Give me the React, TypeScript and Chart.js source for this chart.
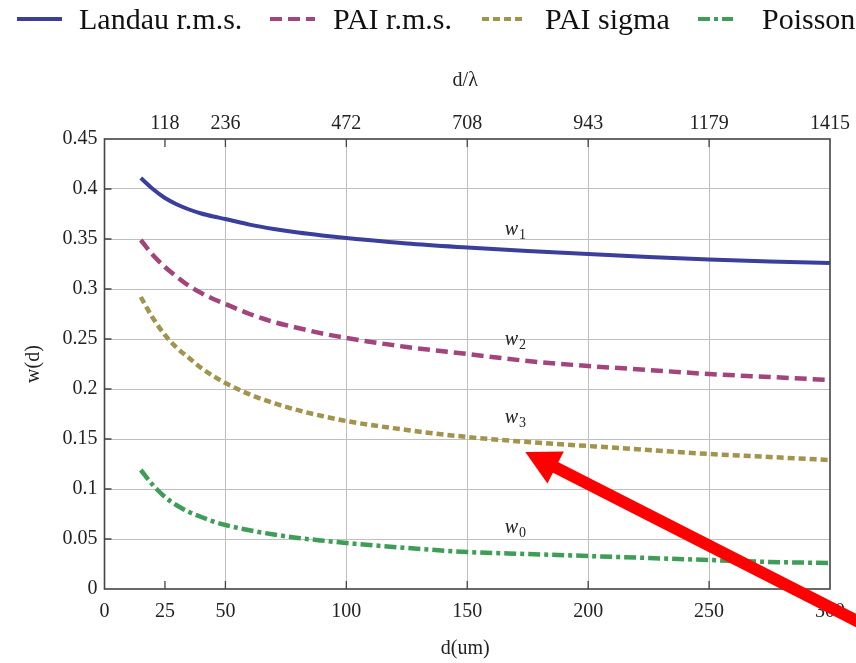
import React, { useEffect, useRef } from "react";
import { Chart, registerables } from "chart.js";

Chart.register(...registerables);

// ---------- data ----------
const dValues = [15, 20, 25, 30, 35, 40, 45, 50, 60, 70, 80, 90, 100, 125, 150, 175, 200, 225, 250, 275, 300];
const landauRms = [0.411, 0.4, 0.391, 0.3845, 0.3795, 0.3755, 0.3725, 0.37, 0.3644, 0.36, 0.3564, 0.3535, 0.351, 0.3455, 0.3415, 0.338, 0.335, 0.332, 0.3295, 0.3275, 0.326];
const paiRms = [0.349, 0.334, 0.322, 0.312, 0.303, 0.296, 0.29, 0.285, 0.275, 0.267, 0.261, 0.2555, 0.251, 0.242, 0.235, 0.228, 0.223, 0.219, 0.215, 0.212, 0.209];
const paiSigma = [0.292, 0.271, 0.254, 0.241, 0.231, 0.221, 0.213, 0.206, 0.1947, 0.1859, 0.1788, 0.173, 0.168, 0.159, 0.152, 0.147, 0.143, 0.139, 0.135, 0.132, 0.129];
const poisson = [0.119, 0.104, 0.092, 0.0835, 0.077, 0.072, 0.0675, 0.064, 0.0587, 0.0545, 0.0511, 0.0484, 0.046, 0.041, 0.037, 0.035, 0.033, 0.031, 0.029, 0.027, 0.026];

const seriesNames = ["Landau r.m.s.", "PAI r.m.s.", "PAI sigma", "Poisson"];
const seriesColors = ["#3b3e9b", "#a3447d", "#a3944c", "#3e9e57"];
const seriesDashes: number[][] = [[], [12, 6], [7, 4], [12, 4, 4, 4]];

const bottomTickValues = [0, 25, 50, 100, 150, 200, 250, 300];
const topTickValues = [25, 50, 100, 150, 200, 250, 300];
const topTickLabels = ["118", "236", "472", "708", "943", "1179", "1415"];

const curveLabelSubs = ["1", "2", "3", "0"];
const curveLabelX = [165.5, 165.5, 165.5, 165.5];
const curveLabelY = [0.354, 0.244, 0.166, 0.056];

const arrowTip = { x: 174, y: 0.137 };
const arrowTail = { x: 312, y: -0.033 };

const SERIF = "'Liberation Serif', 'Times New Roman', serif";

const overlayPlugin = {
  id: "overlay",
  afterDatasetsDraw(chart: any) {
    const { ctx, chartArea } = chart;
    const xs = chart.scales.x;
    const ys = chart.scales.y;
    const { left, right, top, bottom } = chartArea;
    ctx.save();
    // inward ticks
    ctx.strokeStyle = "#444";
    ctx.lineWidth = 1.3;
    ctx.beginPath();
    for (let i = 1; i < 9; i++) {
      const py = ys.getPixelForValue(i * 0.05);
      ctx.moveTo(left, py);
      ctx.lineTo(left + 7, py);
    }
    topTickValues.forEach((v) => {
      if (v === 300) return;
      const px = xs.getPixelForValue(v);
      ctx.moveTo(px, bottom);
      ctx.lineTo(px, bottom - 8);
      ctx.moveTo(px, top);
      ctx.lineTo(px, top + 8);
    });
    ctx.stroke();
    // frame
    ctx.strokeStyle = "#444";
    ctx.lineWidth = 1.6;
    ctx.strokeRect(left, top, right - left, bottom - top);

    // curve labels
    ctx.fillStyle = "#222";
    ctx.textBaseline = "alphabetic";
    curveLabelSubs.forEach((s, i) => {
      const px = xs.getPixelForValue(curveLabelX[i]);
      const py = ys.getPixelForValue(curveLabelY[i]);
      ctx.font = `italic 20px ${SERIF}`;
      ctx.textAlign = "left";
      ctx.fillText("w", px, py);
      const w = ctx.measureText("w").width;
      ctx.font = `14px ${SERIF}`;
      ctx.fillText(s, px + w + 1, py + 4);
    });

    // axis titles
    ctx.font = `20px ${SERIF}`;
    ctx.textAlign = "center";
    ctx.textBaseline = "middle";
    const cx = (left + right) / 2;
    ctx.fillText("d/\u03bb", cx - 2, 81);
    ctx.fillText("d(um)", cx - 2, 649);
    ctx.save();
    ctx.translate(34, (top + bottom) / 2);
    ctx.rotate(-Math.PI / 2);
    ctx.fillText("w(d)", 0, 0);
    ctx.restore();

    // legend
    const lineX = [[17, 62], [270, 315], [482, 522], [698, 733]];
    const textX = [79, 333, 545, 762];
    seriesNames.forEach((name, i) => {
      ctx.strokeStyle = seriesColors[i];
      ctx.lineWidth = 4;
      ctx.setLineDash(seriesDashes[i]);
      ctx.beginPath();
      ctx.moveTo(lineX[i][0], 19);
      ctx.lineTo(lineX[i][1], 19);
      ctx.stroke();
      ctx.setLineDash([]);
      ctx.fillStyle = "#111";
      ctx.font = `30px ${SERIF}`;
      ctx.textAlign = "left";
      ctx.textBaseline = "alphabetic";
      ctx.fillText(name, textX[i], 29);
    });
    ctx.restore();
  },
  afterDraw(chart: any) {
    const { ctx } = chart;
    const xs = chart.scales.x;
    const ys = chart.scales.y;
    const tx = xs.getPixelForValue(arrowTip.x);
    const ty = ys.getPixelForValue(arrowTip.y);
    const sx = xs.getPixelForValue(arrowTail.x);
    const sy = ys.getPixelForValue(arrowTail.y);
    const dx = sx - tx;
    const dy = sy - ty;
    const len = Math.hypot(dx, dy);
    const ux = dx / len;
    const uy = dy / len;
    const headLen = 34;
    const headHalf = 18;
    const bx = tx + ux * headLen;
    const by = ty + uy * headLen;
    ctx.save();
    ctx.strokeStyle = "#ff0000";
    ctx.fillStyle = "#ff0000";
    ctx.lineWidth = 12;
    ctx.lineCap = "butt";
    ctx.beginPath();
    ctx.moveTo(bx - ux * 2, by - uy * 2);
    ctx.lineTo(sx, sy);
    ctx.stroke();
    ctx.beginPath();
    ctx.moveTo(tx, ty);
    ctx.lineTo(bx - uy * headHalf, by + ux * headHalf);
    ctx.lineTo(bx + uy * headHalf, by - ux * headHalf);
    ctx.closePath();
    ctx.fill();
    ctx.restore();
  },
};

export default function App() {
  const canvasRef = useRef<HTMLCanvasElement | null>(null);

  useEffect(() => {
    if (!canvasRef.current) return;
    const makeData = (vals: number[]) => dValues.map((d, i) => ({ x: d, y: vals[i] }));
    const allSeries = [landauRms, paiRms, paiSigma, poisson];
    const gridColor = (c: any) =>
      c.tick && (c.tick.value === 25 || c.tick.value === 0 || c.tick.value === 300) ? "rgba(0,0,0,0)" : "#bfbfbf";
    const yGridColor = (c: any) =>
      c.tick && (Math.abs(c.tick.value) < 1e-9 || Math.abs(c.tick.value - 0.45) < 1e-9) ? "rgba(0,0,0,0)" : "#bfbfbf";

    const chart = new Chart(canvasRef.current, {
      type: "line",
      data: {
        datasets: allSeries.map((vals, i) => ({
          label: seriesNames[i],
          data: makeData(vals),
          borderColor: seriesColors[i],
          backgroundColor: seriesColors[i],
          borderWidth: i === 0 ? 4 : 4.5,
          borderDash: seriesDashes[i],
          pointRadius: 0,
          fill: false,
          cubicInterpolationMode: "monotone" as const,
        })),
      },
      options: {
        responsive: false,
        animation: false,
        layout: { padding: { left: 0, right: 26, top: 0, bottom: 0 } },
        plugins: { legend: { display: false }, title: { display: false }, tooltip: { enabled: false } },
        scales: {
          x: {
            type: "linear",
            position: "bottom",
            min: 0,
            max: 300,
            afterBuildTicks: (s: any) => {
              s.ticks = bottomTickValues.map((v) => ({ value: v }));
            },
            afterFit: (s: any) => {
              s.height = 74;
            },
            grid: { color: gridColor, lineWidth: 1, drawTicks: false },
            border: { display: false },
            ticks: {
              padding: 11,
              maxRotation: 0,
              autoSkip: false,
              color: "#222",
              font: { family: SERIF, size: 20 },
            },
          },
          x2: {
            type: "linear",
            position: "top",
            min: 0,
            max: 300,
            afterBuildTicks: (s: any) => {
              s.ticks = topTickValues.map((v) => ({ value: v }));
            },
            afterFit: (s: any) => {
              s.height = 139;
            },
            grid: { display: false, drawTicks: false },
            border: { display: false },
            ticks: {
              padding: 3,
              maxRotation: 0,
              autoSkip: false,
              color: "#222",
              font: { family: SERIF, size: 20 },
              callback: (v: any) => {
                const idx = topTickValues.indexOf(Number(v));
                return idx >= 0 ? topTickLabels[idx] : "";
              },
            },
          },
          y: {
            type: "linear",
            position: "left",
            min: 0,
            max: 0.45,
            afterFit: (s: any) => {
              s.width = 104.5;
            },
            grid: { color: yGridColor, lineWidth: 1, drawTicks: false },
            border: { display: false },
            ticks: {
              stepSize: 0.05,
              padding: 7,
              color: "#222",
              font: { family: SERIF, size: 20 },
              callback: (v: any) => String(Number(Number(v).toFixed(2))),
            },
          },
        },
      },
      plugins: [overlayPlugin],
    } as any);
    return () => chart.destroy();
  }, []);

  return (
    <div style={{ position: "absolute", left: 0, top: 0, width: 856, height: 663, background: "#fff" }}>
      <canvas ref={canvasRef} width={856} height={663} style={{ width: 856, height: 663, display: "block" }} />
    </div>
  );
}
